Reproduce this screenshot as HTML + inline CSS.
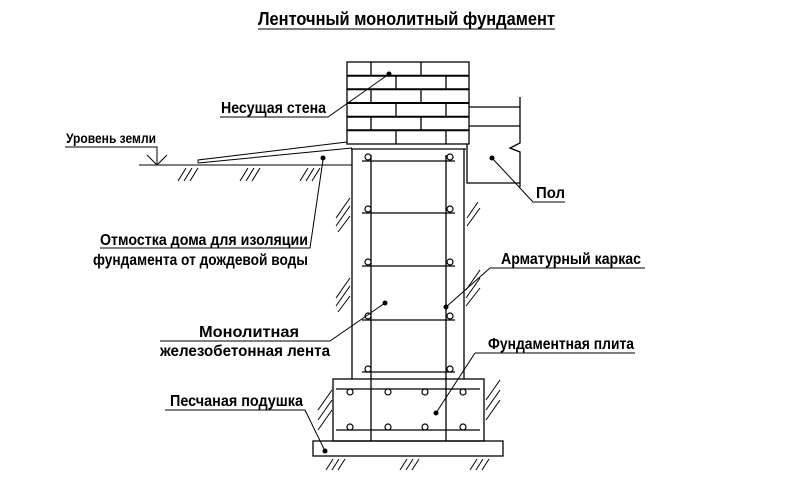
<!DOCTYPE html>
<html><head><meta charset="utf-8"><style>
html,body{margin:0;padding:0;background:#fff}
svg{display:block}
text{font-family:"Liberation Sans",sans-serif;font-size:16px;font-weight:bold;fill:#000}
</style></head><body>
<svg width="800" height="481" viewBox="0 0 800 481" xmlns="http://www.w3.org/2000/svg">
<g fill="none" stroke="#000" stroke-width="1.3">
<rect x="347" y="62" width="122" height="82"/>
<g stroke-width="2">
<line x1="347" y1="75.7" x2="469" y2="75.7"/><line x1="347" y1="89.3" x2="469" y2="89.3"/>
<line x1="347" y1="103" x2="469" y2="103"/><line x1="347" y1="116.7" x2="469" y2="116.7"/>
<line x1="347" y1="130.3" x2="469" y2="130.3"/>
</g>
<path d="M371 62V75.7M421 62V75.7M371 89.3V103M421 89.3V103M371 116.7V130.3M421 116.7V130.3
M396 75.7V89.3M446 75.7V89.3M396 103V116.7M446 103V116.7M396 130.3V144M446 130.3V144"/>
<path d="M469 107H520M469 126H520M520 97V143L510 148L520 152V187M467 144V183H520"/>
<path d="M351 149H466M352 149V379M464 149V379"/>
<rect x="333" y="379" width="151" height="62"/>
<rect x="313" y="441" width="190" height="15"/>
<path d="M371 155V441M446 155V441"/>
<path d="M362 161H455M362 213H455M362 266H455M362 320H455M362 372H455M336 389H480M336 430H480"/>
</g>
<g fill="#fff" stroke="#000" stroke-width="1.2">
<circle cx="368" cy="157" r="3"/><circle cx="450" cy="157" r="3"/>
<circle cx="368" cy="209" r="3"/><circle cx="450" cy="209" r="3"/>
<circle cx="368" cy="262" r="3"/><circle cx="450" cy="262" r="3"/>
<circle cx="368" cy="316" r="3"/><circle cx="450" cy="316" r="3"/>
<circle cx="368" cy="369" r="3"/><circle cx="450" cy="369" r="3"/>
<circle cx="350" cy="392" r="3"/><circle cx="388" cy="392" r="3"/><circle cx="425" cy="392" r="3"/><circle cx="463" cy="392" r="3"/>
<circle cx="350" cy="427" r="3"/><circle cx="388" cy="427" r="3"/><circle cx="425" cy="427" r="3"/><circle cx="463" cy="427" r="3"/>
</g>
<g fill="none" stroke="#000" stroke-width="1">
<path d="M139 165H352"/>
<path d="M198 163L198 160L347 142M198 163L352 148"/>
<path d="M65 147H157V165M147 155L157 165L167 155"/>
<path d="M178 181L186 168M184 181L192 168M190 181L198 168
M240 181L248 168M246 181L254 168M252 181L260 168
M300 181L308 168M306 181L314 168M312 181L320 168
M336 218L350 198M336 226L350 206M338 232L350 216
M336 298L350 278M336 306L350 286M338 312L350 296
M467 218L478 202M467 226L480 208
M466 290L480 270M466 298L480 278M466 306L480 288
M318 410L332 390M318 420L332 400M318 430L332 410
M486 400L500 380M486 410L500 390M486 420L500 400
M326 470L333 459M332 470L339 459M338 470L345 459
M400 470L407 459M406 470L413 459M412 470L419 459
M470 470L477 459M476 470L483 459M482 470L489 459"/>
<path d="M220 117H328L389 74"/>
<path d="M100 248H310L323 160"/>
<path d="M533 202H565M533 202L492 158"/>
<path d="M490 268H645M490 268L446 307"/>
<path d="M160 341H330L385 303"/>
<path d="M475 353H635M475 353L436 413"/>
<path d="M165 410H305L325 451"/>
</g>
<g fill="#000">
<circle cx="389" cy="74" r="2.5"/><circle cx="323" cy="158" r="2.5"/><circle cx="492" cy="158" r="2.5"/>
<circle cx="446" cy="307" r="2.5"/><circle cx="385" cy="303" r="2.5"/><circle cx="436" cy="413" r="2.5"/><circle cx="325" cy="451" r="2.5"/>
</g>
<text x="258" y="25" textLength="297" lengthAdjust="spacingAndGlyphs" style="font-size:18px">Ленточный монолитный фундамент</text>
<line x1="258" y1="29" x2="555" y2="29" stroke="#000" stroke-width="1"/>
<text x="221" y="113" textLength="105" lengthAdjust="spacingAndGlyphs">Несущая стена</text>
<text x="66" y="143" textLength="90" lengthAdjust="spacingAndGlyphs" style="font-size:14px">Уровень земли</text>
<text x="536" y="198" textLength="29" lengthAdjust="spacingAndGlyphs">Пол</text>
<text x="100" y="245" textLength="208" lengthAdjust="spacingAndGlyphs">Отмостка дома для изоляции</text>
<text x="93" y="265" textLength="215" lengthAdjust="spacingAndGlyphs">фундамента от дождевой воды</text>
<text x="501" y="264" textLength="140" lengthAdjust="spacingAndGlyphs">Арматурный каркас</text>
<text x="199" y="337" textLength="100" lengthAdjust="spacingAndGlyphs">Монолитная</text>
<text x="160" y="356" textLength="170" lengthAdjust="spacingAndGlyphs">железобетонная лента</text>
<text x="488" y="349" textLength="146" lengthAdjust="spacingAndGlyphs">Фундаментная плита</text>
<text x="170" y="406" textLength="133" lengthAdjust="spacingAndGlyphs">Песчаная подушка</text>
</svg>
</body></html>
